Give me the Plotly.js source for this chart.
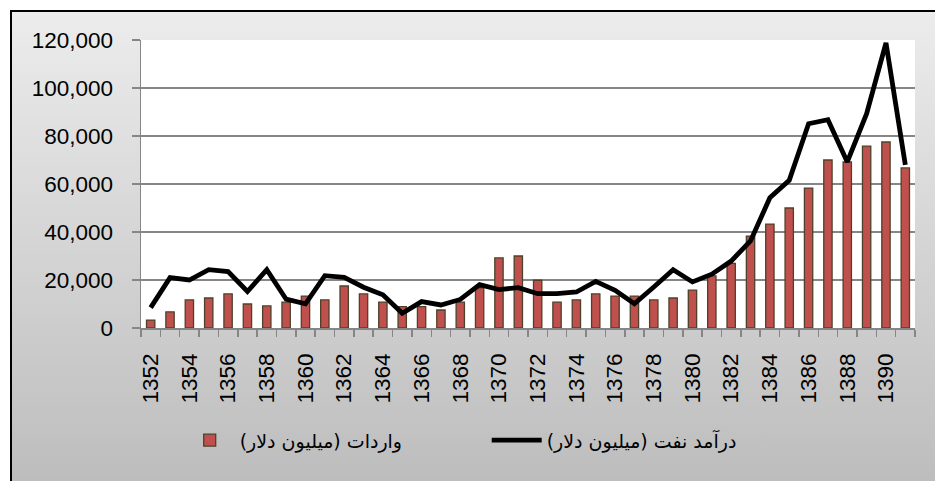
<!DOCTYPE html>
<html>
<head>
<meta charset="utf-8">
<script src="https://cdn.plot.ly/plotly-3.0.1.min.js"></script>
<style>
  html, body { margin: 0; padding: 0; background: #ffffff; }
  #wrap { position: relative; width: 935px; height: 481px; overflow: hidden; }
  #frame { position: absolute; left: 10px; top: 10px; width: 930px; height: 480px;
           border-left: 2px solid #000; border-top: 2px solid #000;
           background: linear-gradient(to bottom, #ececec 0%, #bcbcbc 100%); }
  #chart { position: absolute; left: 0; top: 0; width: 935px; height: 481px; }
</style>
</head>
<body>
<div id="wrap">
  <div id="frame"></div>
  <div id="chart"></div>
</div>
<script>
const years = [1352,1353,1354,1355,1356,1357,1358,1359,1360,1361,1362,1363,1364,1365,1366,1367,1368,1369,1370,1371,
               1372,1373,1374,1375,1376,1377,1378,1379,1380,1381,1382,1383,1384,1385,1386,1387,1388,1389,1390,1391];
const imports = [3300,6700,11700,12500,14200,10000,9200,10800,13300,11700,17500,14200,10800,8900,8900,7500,10800,16700,29200,30000,
                 19900,10800,11700,14200,13300,13300,11700,12500,15800,21700,26900,38300,43300,50000,58300,70000,69200,75800,77500,66700];
const oilRevenue = [8500,21000,20000,24300,23500,15200,24300,12000,10100,21800,21100,17000,13800,6100,11000,9600,11900,18100,16000,16800,
                    14300,14300,15000,19400,15700,10100,17100,24300,19200,22400,27900,36300,54300,61500,85100,86800,69200,89300,118800,68000];
const importsName = "واردات (میلیون دلار)";
const oilName = "درآمد نفت (میلیون دلار)";
const yTicks = [0,20000,40000,60000,80000,100000,120000];

const font = "Liberation Sans, Arial, DejaVu Sans, sans-serif";

const traces = [
  {
    type: "bar", name: importsName, x: years, y: imports,
    marker: { color: "#C0504D", line: { color: "#4d4229", width: 1.3 } },
    hoverinfo: "x+y"
  },
  {
    type: "scatter", mode: "lines", name: oilName, x: years, y: oilRevenue,
    line: { color: "#000000", width: 4.8 }
  }
];

const layout = {
  width: 935, height: 481,
  paper_bgcolor: "rgba(0,0,0,0)",
  plot_bgcolor: "#ffffff",
  margin: { l: 141, r: 20, t: 40, b: 153 },
  font: { family: font, size: 22, color: "#000" },
  bargap: 0.57,
  showlegend: true,
  legend: {
    orientation: "h", x: 0.05, xanchor: "left", y: -0.39, yanchor: "middle",
    font: { family: "DejaVu Sans, Liberation Sans, sans-serif", size: 19, color: "#000" },
    bgcolor: "rgba(0,0,0,0)", itemwidth: 50, entrywidth: 242, entrywidthmode: "pixels", tracegroupgap: 0
  },
  xaxis: {
    type: "linear",
    range: [1351.5, 1391.5],
    tick0: 1352, dtick: 2,
    tickformat: "d",
    tickangle: -90,
    ticks: "",
    ticklabelstandoff: 15,
    tickfont: { family: font, size: 22.5, color: "#000" },
    showgrid: false,
    showline: true, linecolor: "#868686", linewidth: 1.5,
    minor: { tick0: 1351.5, dtick: 1, ticks: "outside", ticklen: 7, tickcolor: "#868686", tickwidth: 1.5, showgrid: false },
    zeroline: false, fixedrange: true
  },
  yaxis: {
    range: [0, 120000],
    tickvals: yTicks,
    tickformat: ",d",
    ticks: "outside", ticklen: 8, tickcolor: "#868686", tickwidth: 1.5,
    ticklabelstandoff: 14,
    tickfont: { family: font, size: 22.5, color: "#000" },
    showgrid: true, gridcolor: "#868686", gridwidth: 1.5,
    showline: true, linecolor: "#868686", linewidth: 1.5,
    zeroline: false, fixedrange: true
  }
};

Plotly.newPlot("chart", traces, layout, { staticPlot: true, displayModeBar: false });
</script>
</body>
</html>
